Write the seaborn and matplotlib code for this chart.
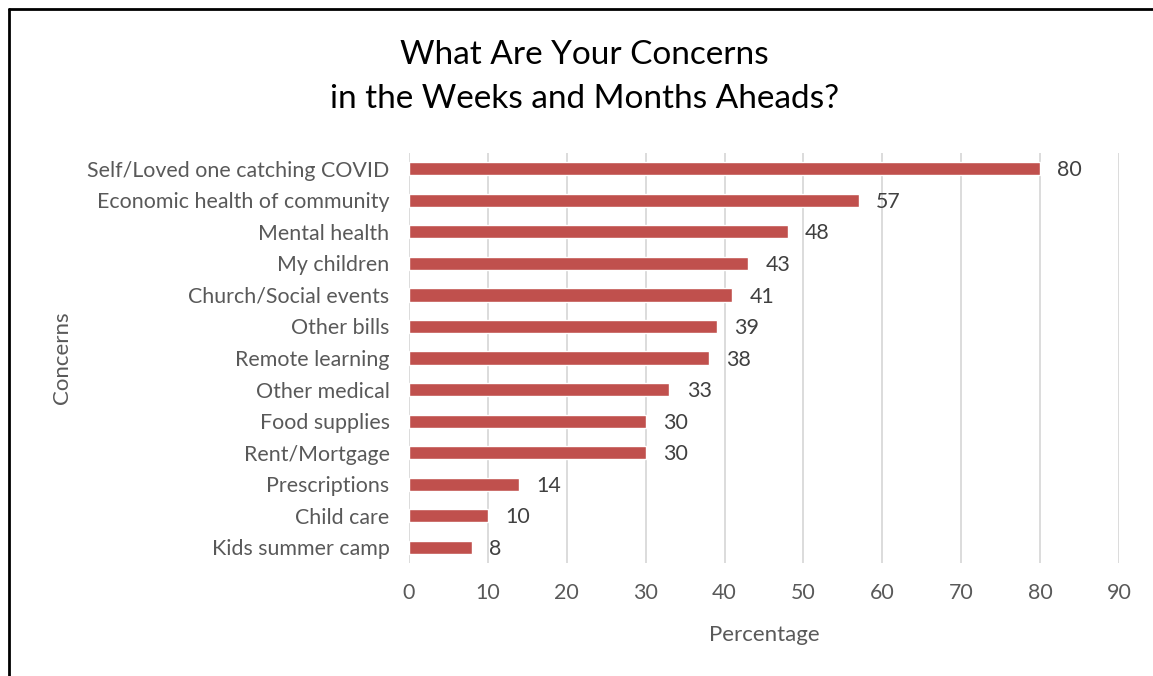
import matplotlib
matplotlib.use("Agg")
import matplotlib.pyplot as plt
import seaborn as sns
import pandas as pd
from matplotlib.lines import Line2D

categories = ["Self/Loved one catching COVID", "Economic health of community", "Mental health",
              "My children", "Church/Social events", "Other bills", "Remote learning",
              "Other medical", "Food supplies", "Rent/Mortgage", "Prescriptions",
              "Child care", "Kids summer camp"]
values = [80, 57, 48, 43, 41, 39, 38, 33, 30, 30, 14, 10, 8]
xticks = [0, 10, 20, 30, 40, 50, 60, 70, 80, 90]

sns.set_theme(style="white")
plt.rcParams['font.family'] = ['Lato', 'DejaVu Sans']

df = pd.DataFrame({"Concerns": categories, "Percentage": values})

fig = plt.figure(figsize=(11.53, 6.76), dpi=100)
ax = fig.add_axes([0.3547, 0.167, 0.6158, 0.6067])
sns.barplot(data=df, x="Percentage", y="Concerns", orient="h", color="#C0504D",
            saturation=1, width=0.42, ax=ax, zorder=3)

ax.set_xlim(0, 90)
ax.set_ylim(12.5, -0.5)
ax.set_xticks(xticks)
ax.xaxis.grid(True, color="#D9D9D9", linewidth=1.3, zorder=0)
ax.yaxis.grid(False)
for s in ax.spines.values():
    s.set_visible(False)
ax.tick_params(axis="both", length=0, labelsize=15.4, colors="#595959")
ax.tick_params(axis="x", pad=14)
ax.tick_params(axis="y", pad=14)

for i, v in enumerate(values):
    ax.text(v + 2.2, i + 0.05, str(v), va="center", ha="left", fontsize=15.4, color="#404040")

ax.set_xlabel("Percentage", fontsize=16, color="#595959", labelpad=16)
ax.set_ylabel("Concerns", fontsize=16, color="#595959", labelpad=11)

fig.text(0.507, 0.886, "What Are Your Concerns\nin the Weeks and Months Aheads?",
         ha="center", va="center", fontsize=24, color="#000000", linespacing=1.6)

# outer frame (top and left edges)
fig.add_artist(Line2D([0.0075, 1.0], [0.986, 0.986], transform=fig.transFigure, color="black", linewidth=2))
fig.add_artist(Line2D([0.0075, 0.0075], [0.0, 0.986], transform=fig.transFigure, color="black", linewidth=2))

fig.savefig("out.png", dpi=100, facecolor="white")
